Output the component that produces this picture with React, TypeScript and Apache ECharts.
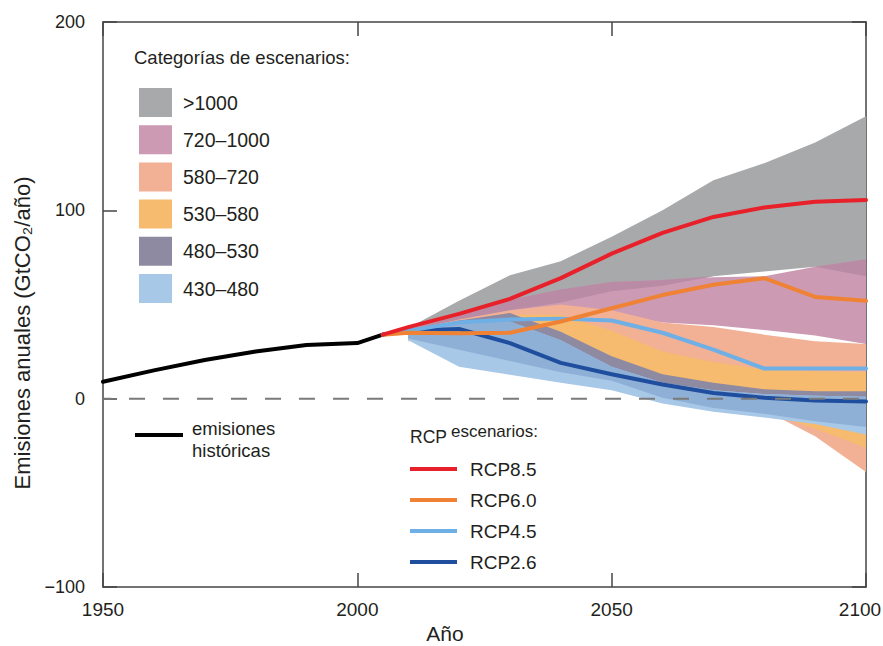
import React, { useEffect, useRef } from "react";
import * as echarts from "echarts";

const FONT = '"Liberation Sans", Arial, sans-serif';
const TEXT = "#231f20";

// Historical emissions (GtCO2/yr)
const histYears = [1950, 1960, 1970, 1980, 1990, 2000, 2005];
const histValues = [9, 15, 20.5, 25, 28.5, 29.5, 34];

// RCP pathways
const rcpYears = [2005, 2010, 2020, 2030, 2040, 2050, 2060, 2070, 2080, 2090, 2100];
const rcp85 = [34, 38, 45, 53, 64, 77, 88, 96.5, 101.5, 104.5, 105.5];
const rcp60 = [34, 35, 34.8, 35, 41, 48, 55, 60.5, 64, 54, 52];
const rcp45 = [34, 36, 40.5, 42, 42.5, 41.5, 35, 26, 16, 16, 16];
const rcp26 = [34, 36, 37, 29.5, 19, 13, 7.5, 3, 0.5, -1, -1.5];

// Scenario category ranges (lower / upper)
const bandYears = [2010, 2020, 2030, 2040, 2050, 2060, 2070, 2080, 2090, 2100];
const over1000Lo = [35, 40, 47, 51, 57, 60, 65, 67.5, 70, 65];
const over1000Hi = [37.5, 52, 65.5, 73, 86, 100, 116, 125, 136, 150];
const c720Lo = [34, 38, 42, 45, 45, 40.5, 39, 36.5, 33.5, 29];
const c720Hi = [36.5, 44, 52.5, 58, 62, 63, 64.5, 65, 70, 74];
const c580Lo = [33, 34, 32, 28, 20, 10, 0, -6, -20, -39];
const c580Hi = [36, 42, 47, 50, 47, 40.5, 38, 34, 30.5, 29];
const c530Lo = [30.5, 33, 30, 25, 15, 6, -2, -7, -16, -26];
const c530Hi = [36, 40, 44.5, 44.5, 36, 25, 19.5, 15.5, 14.5, 14];
const c480Lo = [32, 26, 20, 14, 9.5, 0.5, -5, -8, -12, -15];
const c480Hi = [36, 41.5, 45.5, 35.5, 22.5, 13, 8.5, 5, 4, 3.9];
const c430Lo = [31, 17, 12.7, 8.5, 4.5, -2.5, -7, -10, -13.5, -19];
const c430Hi = [36, 41, 41, 31, 17, 8.5, 4.5, 2.5, 1.5, 1];

const categoryLabels = [">1000", "720–1000", "580–720", "530–580", "480–530", "430–480"];
const categoryColors = ["#a8a9ab", "#cc9ab2", "#f2b095", "#f7bb6f", "#8e8aa1", "#a8c8e8"];
const mauve = "#b98ba5";
const midBlue = "#8fb0d6";

const rcpNames = ["RCP8.5", "RCP6.0", "RCP4.5", "RCP2.6"];
const rcpColors = ["#e8202a", "#ef8235", "#6eb0e6", "#1f4e9e"];

const xTicks = { min: 1950, max: 2100, interval: 50 };
const yTicks = { min: -100, max: 200, interval: 100 };

function overlap(loA: number[], hiA: number[], loB: number[], hiB: number[]) {
  const lo = loA.map((v, i) => Math.max(v, loB[i]));
  const hi = hiA.map((v, i) => Math.max(lo[i], Math.min(v, hiB[i])));
  return [lo, hi];
}

function band(name: string, lo: number[], hi: number[], color: string) {
  return {
    type: "custom",
    name,
    silent: true,
    z: 1,
    data: bandYears.map((yr, i) => [yr, lo[i], hi[i]]),
    encode: { x: 0, y: [1, 2] },
    renderItem: (params: any, api: any) => {
      if (params.dataIndex !== 0) return null;
      const top = bandYears.map((yr, i) => api.coord([yr, hi[i]]));
      const bottom = bandYears.map((yr, i) => api.coord([yr, lo[i]])).reverse();
      return {
        type: "polygon",
        shape: { points: [...top, ...bottom] },
        style: { fill: color },
      };
    },
  };
}

function line(name: string, xs: number[], ys: number[], color: string, z: number) {
  return {
    type: "line",
    name,
    silent: true,
    z,
    data: xs.map((x, i) => [x, ys[i]]),
    showSymbol: false,
    lineStyle: { color, width: 4, cap: "round", join: "round" },
  };
}

function buildOption() {
  const [mauveLo, mauveHi] = overlap(over1000Lo, over1000Hi, c720Lo, c720Hi);
  const [midLo, midHi] = overlap(c480Lo, c480Hi, c430Lo, c430Hi);

  const axisLine = { show: true, onZero: false, lineStyle: { color: "#444", width: 1.5 } };
  const axisTick = { show: true, inside: true, length: 14, lineStyle: { color: "#444", width: 1.5 } };
  const tickText = { fontSize: 19, fontFamily: FONT, color: TEXT };

  const graphic: any[] = [];
  // Category legend
  graphic.push({
    type: "text",
    x: 134,
    y: 57,
    style: { text: "Categorías de escenarios:", fill: TEXT, font: `18.5px ${FONT}`, align: "left", verticalAlign: "middle" },
  });
  categoryLabels.forEach((label, i) => {
    const y = 88 + i * 37.2;
    graphic.push({ type: "rect", shape: { x: 139, y, width: 33, height: 29 }, style: { fill: categoryColors[i] } });
    graphic.push({
      type: "text",
      x: 183,
      y: y + 14.5,
      style: { text: label, fill: TEXT, font: `19.5px ${FONT}`, align: "left", verticalAlign: "middle" },
    });
  });
  // Historical legend
  graphic.push({ type: "line", shape: { x1: 135, y1: 435, x2: 183, y2: 435 }, style: { stroke: "#000", lineWidth: 4 } });
  graphic.push({
    type: "text",
    x: 192,
    y: 428,
    style: { text: "emisiones", fill: TEXT, font: `18.5px ${FONT}`, align: "left", verticalAlign: "middle" },
  });
  graphic.push({
    type: "text",
    x: 192,
    y: 450,
    style: { text: "históricas", fill: TEXT, font: `18.5px ${FONT}`, align: "left", verticalAlign: "middle" },
  });
  // RCP legend
  graphic.push({
    type: "text",
    x: 410,
    y: 437,
    style: { text: "RCP", fill: TEXT, font: `17.5px ${FONT}`, align: "left", verticalAlign: "middle" },
  });
  graphic.push({
    type: "text",
    x: 451,
    y: 431,
    style: { text: "escenarios:", fill: TEXT, font: `17px ${FONT}`, align: "left", verticalAlign: "middle" },
  });
  rcpNames.forEach((name, i) => {
    const y = 469 + i * 31;
    graphic.push({ type: "line", shape: { x1: 410, y1: y, x2: 457, y2: y }, style: { stroke: rcpColors[i], lineWidth: 4 } });
    graphic.push({
      type: "text",
      x: 470,
      y,
      style: { text: name, fill: TEXT, font: `19px ${FONT}`, align: "left", verticalAlign: "middle" },
    });
  });
  // Axis titles
  graphic.push({
    type: "text",
    x: 22,
    y: 333,
    rotation: Math.PI / 2,
    style: { text: "Emisiones anuales (GtCO₂/año)", fill: TEXT, font: `22px ${FONT}`, align: "center", verticalAlign: "middle" },
  });
  graphic.push({
    type: "text",
    x: 445,
    y: 633,
    style: { text: "Año", fill: TEXT, font: `21px ${FONT}`, align: "center", verticalAlign: "middle" },
  });

  return {
    animation: false,
    backgroundColor: "#fff",
    grid: { left: 103, right: 17, top: 22, bottom: 59, containLabel: false, outerBoundsMode: "none" },
    xAxis: [
      {
        type: "value",
        position: "bottom",
        ...xTicks,
        axisLine,
        axisTick,
        splitLine: { show: false },
        axisLabel: {
          ...tickText,
          margin: 13,
          // the last year label is nudged left so it stays inside the canvas
          formatter: (v: number) => (v === xTicks.max ? `{end|${v}}` : String(v)),
          rich: { end: { ...tickText, padding: [0, 12, 0, 0] } },
        },
      },
      {
        type: "value",
        position: "top",
        ...xTicks,
        axisLine,
        axisTick,
        splitLine: { show: false },
        axisLabel: { show: false },
      },
    ],
    yAxis: [
      {
        type: "value",
        position: "left",
        ...yTicks,
        axisLine,
        axisTick,
        splitLine: { show: false },
        axisLabel: {
          fontSize: 18,
          fontFamily: FONT,
          color: TEXT,
          margin: 18,
          formatter: (v: number) => (v < 0 ? "−" + Math.abs(v) : String(v)),
        },
      },
      {
        type: "value",
        position: "right",
        ...yTicks,
        axisLine,
        axisTick,
        splitLine: { show: false },
        axisLabel: { show: false },
      },
    ],
    series: [
      band(">1000", over1000Lo, over1000Hi, categoryColors[0]),
      band("720–1000", c720Lo, c720Hi, categoryColors[1]),
      band("solape", mauveLo, mauveHi, mauve),
      band("580–720", c580Lo, c580Hi, categoryColors[2]),
      band("530–580", c530Lo, c530Hi, categoryColors[3]),
      band("480–530", c480Lo, c480Hi, categoryColors[4]),
      band("430–480", c430Lo, c430Hi, categoryColors[5]),
      band("solape azul", midLo, midHi, midBlue),
      line("emisiones históricas", histYears, histValues, "#000", 3),
      line("RCP2.6", rcpYears, rcp26, rcpColors[3], 3),
      line("RCP4.5", rcpYears, rcp45, rcpColors[2], 3),
      line("RCP6.0", rcpYears, rcp60, rcpColors[1], 3),
      line("RCP8.5", rcpYears, rcp85, rcpColors[0], 3),
      {
        type: "line",
        name: "cero",
        silent: true,
        z: 4,
        data: [
          [xTicks.min, 0],
          [xTicks.max, 0],
        ],
        showSymbol: false,
        lineStyle: { color: "#7a7a7a", width: 2, type: [16, 18], dashOffset: 8 },
      },
    ],
    graphic,
  };
}

export default function App() {
  const ref = useRef<HTMLDivElement>(null);
  useEffect(() => {
    if (!ref.current) return;
    const chart = echarts.init(ref.current, null, { renderer: "svg" });
    chart.setOption(buildOption() as any);
    return () => chart.dispose();
  }, []);
  return (
    <div
      ref={ref}
      style={{ position: "fixed", left: 0, top: 0, width: 883, height: 646, background: "#fff" }}
    />
  );
}
